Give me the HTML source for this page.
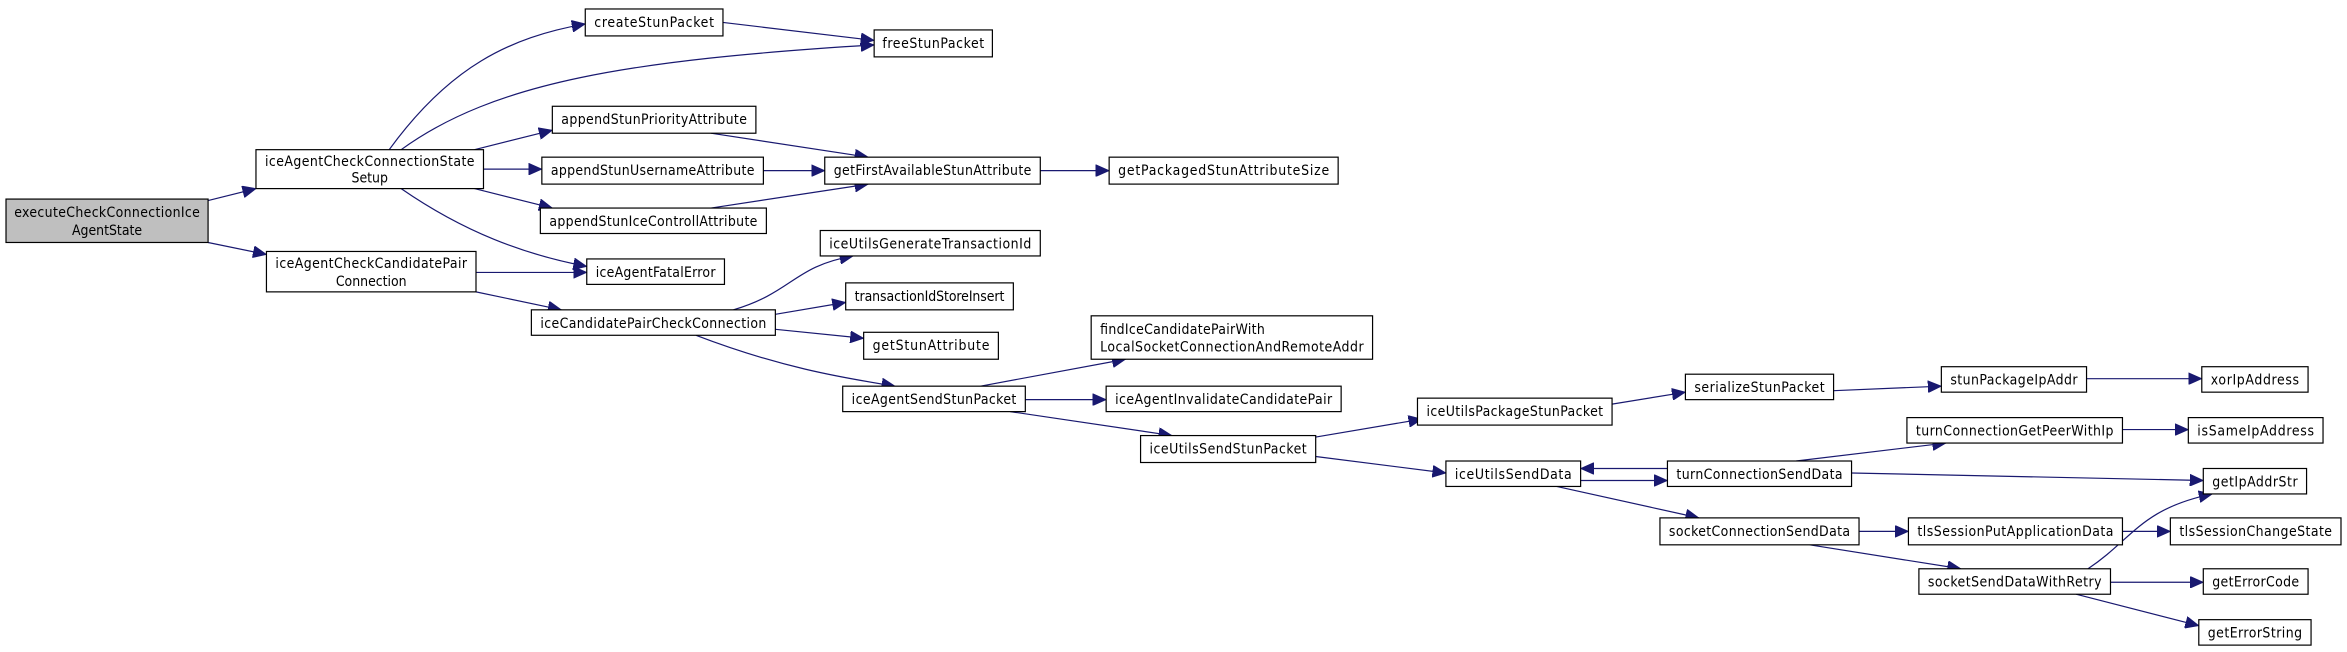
<!DOCTYPE html>
<html><head><meta charset="utf-8"><style>
html,body{margin:0;padding:0;background:#fff;}
svg{display:block;}
text{font-family:"DejaVu Sans Condensed","DejaVu Sans","Liberation Sans",sans-serif;font-size:9.3px;fill:#000;}
.e{fill:none;stroke:#191970;stroke-width:0.8;marker-end:url(#a);}
rect{fill:#fff;stroke:#000;stroke-width:0.8;}
</style></head><body>
<svg width="2347" height="652" viewBox="0 0 1568 435.6" xmlns="http://www.w3.org/2000/svg">
<defs><marker id="a" markerUnits="userSpaceOnUse" markerWidth="10" markerHeight="8" refX="9" refY="4" orient="auto"><path d="M0,0 L9,4 L0,8 z" fill="#191970" stroke="#191970" stroke-width="0.5"/></marker></defs>
<path class="e" d="M139,134 L171,126"/>
<path class="e" d="M139,162 L178,170"/>
<path class="e" d="M260,100 C300,45 340,25 391,16"/>
<path class="e" d="M268,100 C330,55 420,40 584,30"/>
<path class="e" d="M317,100 L369,87"/>
<path class="e" d="M323,113 L362,113"/>
<path class="e" d="M317,126 L369,139"/>
<path class="e" d="M268,126 C310,155 350,170 392,178"/>
<path class="e" d="M318,182 L392,182"/>
<path class="e" d="M318,195 L375,207"/>
<path class="e" d="M483,15 L584,27"/>
<path class="e" d="M475,89 L580,105"/>
<path class="e" d="M510,114 L551,114"/>
<path class="e" d="M475,139 L580,123"/>
<path class="e" d="M695,114 L741,114"/>
<path class="e" d="M490,207 C530,195 530,178 570,171"/>
<path class="e" d="M518,210 L565,202"/>
<path class="e" d="M518,220 L577,226"/>
<path class="e" d="M465,224 C520,245 560,252 598,258"/>
<path class="e" d="M655,258 L752,240"/>
<path class="e" d="M685,267 L739,267"/>
<path class="e" d="M675,275 L783,291"/>
<path class="e" d="M879,292 L950,280"/>
<path class="e" d="M879,305 L966,316"/>
<path class="e" d="M1077,270 L1126,262"/>
<path class="e" d="M1225,261 L1297,258"/>
<path class="e" d="M1394,253 L1471,253"/>
<path class="e" d="M1056,321 L1114,321"/>
<path class="e" d="M1114,313 L1056,313"/>
<path class="e" d="M1040,325 L1135,346"/>
<path class="e" d="M1200,308 L1300,296"/>
<path class="e" d="M1237,316 L1472,321"/>
<path class="e" d="M1418,287 L1462,287"/>
<path class="e" d="M1242,355 L1275,355"/>
<path class="e" d="M1418,355 L1450,355"/>
<path class="e" d="M1209,364 L1310,380"/>
<path class="e" d="M1395,380 C1425,360 1430,340 1478,330"/>
<path class="e" d="M1410,389 L1472,389"/>
<path class="e" d="M1387,397 L1469,418"/>
<rect x="4" y="133" width="135" height="29" style="fill:#bfbfbf"/>
<text x="71.5" y="145" text-anchor="middle" textLength="124">executeCheckConnectionIce</text>
<text x="71.5" y="157" text-anchor="middle">AgentState</text>
<rect x="171" y="100" width="152" height="26"/>
<text x="247" y="111" text-anchor="middle" textLength="140">iceAgentCheckConnectionState</text>
<text x="247" y="122" text-anchor="middle">Setup</text>
<rect x="178" y="168" width="140" height="27"/>
<text x="248" y="179" text-anchor="middle" textLength="128">iceAgentCheckCandidatePair</text>
<text x="248" y="191" text-anchor="middle">Connection</text>
<rect x="391" y="6" width="92" height="18"/><text x="437" y="18" text-anchor="middle" textLength="80">createStunPacket</text>
<rect x="584" y="20" width="79" height="18"/><text x="623.5" y="32" text-anchor="middle" textLength="68">freeStunPacket</text>
<rect x="369" y="71" width="136" height="18"/><text x="437" y="83" text-anchor="middle" textLength="124">appendStunPriorityAttribute</text>
<rect x="362" y="105" width="148" height="18"/><text x="436" y="117" text-anchor="middle" textLength="136">appendStunUsernameAttribute</text>
<rect x="361" y="139" width="151" height="17"/><text x="436.5" y="151" text-anchor="middle" textLength="139">appendStunIceControllAttribute</text>
<rect x="392" y="173" width="92" height="17"/><text x="438" y="185" text-anchor="middle" textLength="80">iceAgentFatalError</text>
<rect x="355" y="207" width="163" height="17"/><text x="436.5" y="219" text-anchor="middle" textLength="151">iceCandidatePairCheckConnection</text>
<rect x="551" y="105" width="144" height="18"/><text x="623" y="117" text-anchor="middle" textLength="132">getFirstAvailableStunAttribute</text>
<rect x="741" y="105" width="153" height="18"/><text x="817.5" y="117" text-anchor="middle" textLength="141">getPackagedStunAttributeSize</text>
<rect x="548" y="154" width="147" height="17"/><text x="621.5" y="166" text-anchor="middle" textLength="135">iceUtilsGenerateTransactionId</text>
<rect x="565" y="189" width="112" height="18"/><text x="621" y="201" text-anchor="middle" textLength="100">transactionIdStoreInsert</text>
<rect x="577" y="222" width="90" height="18"/><text x="622" y="234" text-anchor="middle" textLength="78">getStunAttribute</text>
<rect x="729" y="211" width="188" height="29"/>
<text x="735" y="223" textLength="110">findIceCandidatePairWith</text>
<text x="735" y="235" textLength="176">LocalSocketConnectionAndRemoteAddr</text>
<rect x="563" y="258" width="122" height="17"/><text x="624" y="270" text-anchor="middle" textLength="110">iceAgentSendStunPacket</text>
<rect x="739" y="258" width="157" height="17"/><text x="817.5" y="270" text-anchor="middle" textLength="145">iceAgentInvalidateCandidatePair</text>
<rect x="762" y="291" width="117" height="18"/><text x="820.5" y="303" text-anchor="middle" textLength="105">iceUtilsSendStunPacket</text>
<rect x="947" y="266" width="130" height="18"/><text x="1012" y="278" text-anchor="middle" textLength="118">iceUtilsPackageStunPacket</text>
<rect x="1126" y="250" width="99" height="17"/><text x="1175.5" y="262" text-anchor="middle" textLength="87">serializeStunPacket</text>
<rect x="1297" y="245" width="97" height="17"/><text x="1345.5" y="257" text-anchor="middle" textLength="85">stunPackageIpAddr</text>
<rect x="1471" y="245" width="71" height="17"/><text x="1506.5" y="257" text-anchor="middle" textLength="59">xorIpAddress</text>
<rect x="1274" y="279" width="144" height="17"/><text x="1346" y="291" text-anchor="middle" textLength="132">turnConnectionGetPeerWithIp</text>
<rect x="1462" y="279" width="90" height="17"/><text x="1507" y="291" text-anchor="middle" textLength="78">isSameIpAddress</text>
<rect x="966" y="308" width="90" height="17"/><text x="1011" y="320" text-anchor="middle" textLength="78">iceUtilsSendData</text>
<rect x="1114" y="308" width="123" height="17"/><text x="1175.5" y="320" text-anchor="middle" textLength="111">turnConnectionSendData</text>
<rect x="1472" y="313" width="69" height="17"/><text x="1506.5" y="325" text-anchor="middle" textLength="57">getIpAddrStr</text>
<rect x="1109" y="346" width="133" height="18"/><text x="1175.5" y="358" text-anchor="middle" textLength="121">socketConnectionSendData</text>
<rect x="1275" y="346" width="143" height="18"/><text x="1346.5" y="358" text-anchor="middle" textLength="131">tlsSessionPutApplicationData</text>
<rect x="1450" y="346" width="114" height="18"/><text x="1507" y="358" text-anchor="middle" textLength="102">tlsSessionChangeState</text>
<rect x="1282" y="380" width="128" height="17"/><text x="1346" y="392" text-anchor="middle" textLength="116">socketSendDataWithRetry</text>
<rect x="1472" y="380" width="70" height="17"/><text x="1507" y="392" text-anchor="middle" textLength="58">getErrorCode</text>
<rect x="1469" y="414" width="75" height="17"/><text x="1506.5" y="426" text-anchor="middle" textLength="63">getErrorString</text>
</svg>
</body></html>
